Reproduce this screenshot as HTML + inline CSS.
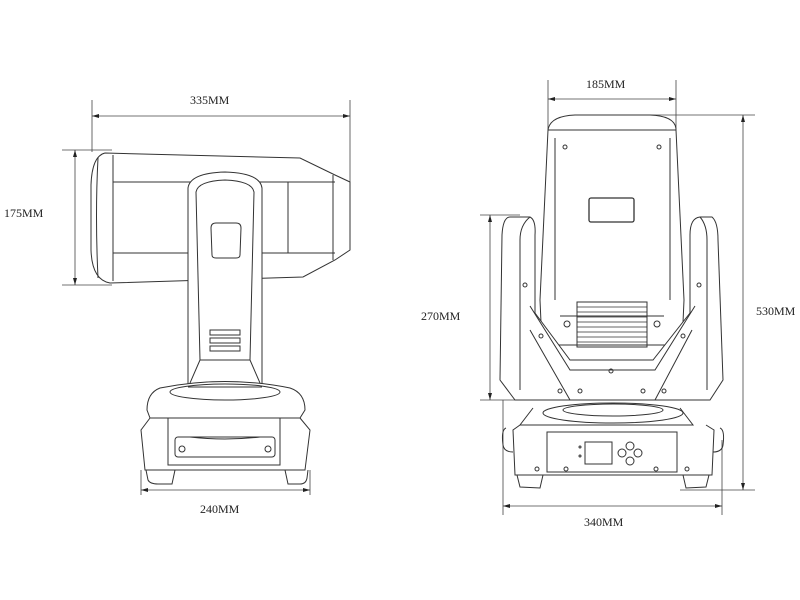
<!DOCTYPE html>
<html><head><style>html,body{margin:0;padding:0;background:#fff}svg{display:block}text{font-family:"Liberation Serif",serif;font-size:12px;fill:#222}</style></head>
<body>
<svg width="800" height="600" viewBox="0 0 800 600" fill="none" stroke="#333" stroke-width="1">
<!-- LEFT dimensions -->
<g stroke="#444" stroke-width="0.8">
<line x1="92" y1="100" x2="92" y2="152"/><line x1="350" y1="100" x2="350" y2="182"/>
<line x1="92" y1="116" x2="350" y2="116"/>
<line x1="62" y1="150" x2="112" y2="150"/><line x1="62" y1="285" x2="112" y2="285"/>
<line x1="75" y1="150" x2="75" y2="285"/>
<line x1="141" y1="470" x2="141" y2="495"/><line x1="310" y1="470" x2="310" y2="495"/>
<line x1="141" y1="490" x2="310" y2="490"/>
</g>
<g fill="#222" stroke="none">
<polygon points="92,116 99,114 99,118"/><polygon points="350,116 343,114 343,118"/>
<polygon points="75,150 73,157 77,157"/><polygon points="75,285 73,278 77,278"/>
<polygon points="141,490 148,488 148,492"/><polygon points="310,490 303,488 303,492"/>
</g>
<text x="190" y="104" stroke="none">335MM</text>
<text x="4" y="217" stroke="none">175MM</text>
<text x="200" y="513" stroke="none">240MM</text>
<!-- LEFT head -->
<path d="M105,153 L300,158 L335,175 L350,182 L350,250 L335,260 L303,277 L110,283 Q92,280 91,250 L91,185 Q92,156 105,153 Z"/>
<line x1="113" y1="155" x2="113" y2="281"/>
<line x1="113" y1="182" x2="335" y2="182"/><line x1="113" y1="253" x2="335" y2="253"/>
<line x1="288" y1="182" x2="288" y2="253"/><line x1="333" y1="175" x2="333" y2="260"/>
<path d="M98,158 Q95,215 98,278"/>
<!-- arm -->
<path d="M188,188 Q190,173 225,172 Q260,173 262,188 L262,387 L188,387 Z" fill="#fff"/>
<path d="M196,192 Q198,181 225,180 Q252,181 254,192 L250,360 L200,360 Z"/>
<path d="M200,360 L190,383 M250,360 L260,383"/>
<path d="M211,228 Q211,223 216,223 L236,223 Q241,223 241,228 L240,255 Q240,258 236,258 L216,258 Q212,258 212,255 Z"/>
<rect x="210" y="330" width="30" height="5"/><rect x="210" y="338" width="30" height="5"/><rect x="210" y="346" width="30" height="5"/>
<!-- base -->
<path d="M160,388 Q225,375 290,388 Q305,393 305,410 L300,418 L150,418 L147,410 Q147,393 160,388 Z" fill="#fff"/>
<ellipse cx="225" cy="392" rx="55" ry="8"/>
<path d="M188,387 L262,387"/>
<path d="M150,418 L141,430 L145,470 L305,470 L310,430 L300,418"/>
<path d="M168,418 L168,465 L280,465 L280,418"/>
<rect x="175" y="437" width="100" height="20" rx="3"/>
<path d="M190,437 Q225,441 260,437"/>
<circle cx="182" cy="449" r="3"/><circle cx="268" cy="449" r="3"/>
<path d="M146,470 L148,480 Q150,484 158,484 L172,484 L175,470 M285,470 L288,484 L300,484 Q306,484 307,478 L308,470"/>
<!-- RIGHT dimensions -->
<g stroke="#444" stroke-width="0.8">
<line x1="548" y1="80" x2="548" y2="130"/><line x1="676" y1="80" x2="676" y2="130"/>
<line x1="548" y1="99" x2="676" y2="99"/>
<line x1="600" y1="115" x2="755" y2="115"/><line x1="680" y1="490" x2="755" y2="490"/>
<line x1="743" y1="115" x2="743" y2="490"/>
<line x1="480" y1="215" x2="520" y2="215"/><line x1="480" y1="400" x2="530" y2="400"/>
<line x1="490" y1="215" x2="490" y2="400"/>
<line x1="503" y1="400" x2="503" y2="515"/><line x1="722" y1="440" x2="722" y2="515"/>
<line x1="503" y1="506" x2="722" y2="506"/>
</g>
<g fill="#222" stroke="none">
<polygon points="548,99 555,97 555,101"/><polygon points="676,99 669,97 669,101"/>
<polygon points="743,115 741,122 745,122"/><polygon points="743,490 741,483 745,483"/>
<polygon points="490,215 488,222 492,222"/><polygon points="490,400 488,393 492,393"/>
<polygon points="503,506 510,504 510,508"/><polygon points="722,506 715,504 715,508"/>
</g>
<text x="586" y="88" stroke="none">185MM</text>
<text x="756" y="315" stroke="none">530MM</text>
<text x="421" y="320" stroke="none">270MM</text>
<text x="584" y="526" stroke="none">340MM</text>
<!-- RIGHT head -->
<path d="M548,130 Q550,116 575,115 L650,115 Q676,116 676,130 L684,300 L682,345 L542,345 L540,300 Z"/>
<line x1="548" y1="130" x2="676" y2="130"/>
<path d="M555,138 L555,300 M670,138 L670,300"/>
<rect x="589" y="198" width="45" height="24" rx="2" stroke-width="1.3"/>
<circle cx="565" cy="147" r="2"/><circle cx="659" cy="147" r="2"/>
<rect x="577" y="302" width="70" height="45"/>
<g stroke-width="0.7"><line x1="577" y1="307" x2="647" y2="307"/><line x1="577" y1="312" x2="647" y2="312"/><line x1="577" y1="317" x2="647" y2="317"/><line x1="577" y1="322" x2="647" y2="322"/><line x1="577" y1="327" x2="647" y2="327"/><line x1="577" y1="332" x2="647" y2="332"/><line x1="577" y1="337" x2="647" y2="337"/><line x1="577" y1="342" x2="647" y2="342"/></g>
<line x1="560" y1="316" x2="664" y2="316"/>
<circle cx="567" cy="324" r="3"/><circle cx="657" cy="324" r="3"/>
<!-- yoke -->
<path d="M510,217 L530,217 Q536,220 535,235 L535,313 L570,360 L653,360 L690,313 L690,235 Q690,218 700,217 L712,217 Q718,222 718,240 L723,380 L710,400 L570,400 L515,400 L500,380 L502,235 Q503,217 510,217 Z" fill="#fff"/>
<path d="M530,217 Q520,225 520,240 L520,390 M700,217 Q707,225 707,240 L707,390"/>
<path d="M530,306 L570,370 L655,370 L695,306"/>
<path d="M570,400 L530,330 M655,400 L692,330"/>
<circle cx="525" cy="285" r="2"/><circle cx="699" cy="285" r="2"/>
<circle cx="541" cy="336" r="2"/><circle cx="683" cy="336" r="2"/>
<circle cx="611" cy="371" r="2"/>
<circle cx="560" cy="391" r="2"/><circle cx="580" cy="391" r="2"/><circle cx="643" cy="391" r="2"/><circle cx="664" cy="391" r="2"/>
<!-- base -->
<ellipse cx="613" cy="413" rx="70" ry="10"/>
<ellipse cx="613" cy="410" rx="50" ry="6"/>
<path d="M533,408 L520,425 L693,425 L680,408"/>
<path d="M520,425 L513,430 L515,475 L712,475 L714,430 L706,425"/>
<rect x="547" y="432" width="130" height="40"/>
<path d="M506,428 Q501,430 503,445 Q504,452 513,452 M720,428 Q725,430 723,445 Q722,452 713,452"/>
<rect x="585" y="442" width="27" height="22"/>
<circle cx="580" cy="447" r="1"/><circle cx="580" cy="456" r="1"/>
<circle cx="630" cy="446" r="4"/><circle cx="630" cy="461" r="4"/><circle cx="622" cy="453" r="4"/><circle cx="638" cy="453" r="4"/>
<circle cx="566" cy="469" r="2"/><circle cx="656" cy="469" r="2"/>
<circle cx="537" cy="469" r="2"/><circle cx="687" cy="469" r="2"/>
<path d="M517,475 L520,487 L540,488 L543,475 M683,475 L686,488 L706,487 L709,475"/>
</svg>
</body></html>
